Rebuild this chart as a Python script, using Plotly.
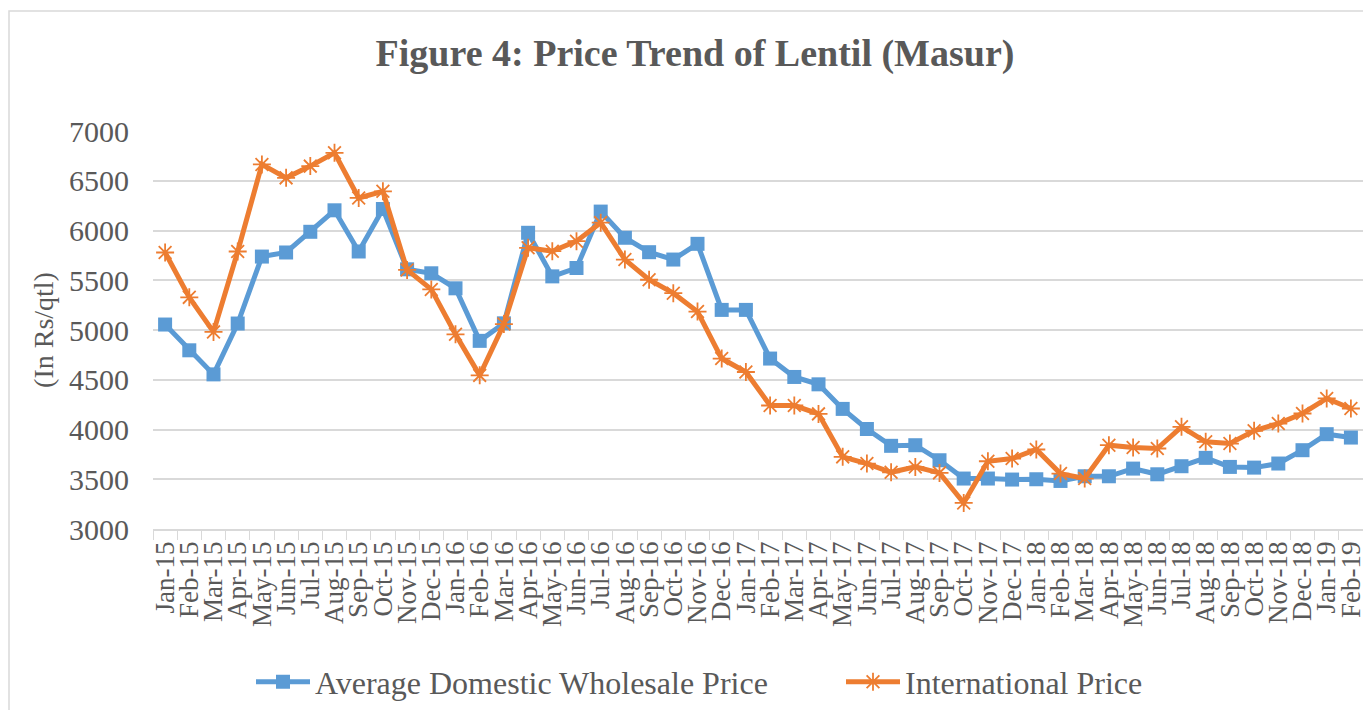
import plotly.graph_objects as go

months = ["Jan-15","Feb-15","Mar-15","Apr-15","May-15","Jun-15","Jul-15","Aug-15","Sep-15","Oct-15","Nov-15","Dec-15",
          "Jan-16","Feb-16","Mar-16","Apr-16","May-16","Jun-16","Jul-16","Aug-16","Sep-16","Oct-16","Nov-16","Dec-16",
          "Jan-17","Feb-17","Mar-17","Apr-17","May-17","Jun-17","Jul-17","Aug-17","Sep-17","Oct-17","Nov-17","Dec-17",
          "Jan-18","Feb-18","Mar-18","Apr-18","May-18","Jun-18","Jul-18","Aug-18","Sep-18","Oct-18","Nov-18","Dec-18",
          "Jan-19","Feb-19"]

domestic = [5055, 4796, 4554, 5065, 5738, 5779, 5987, 6203, 5789, 6216, 5610, 5570,
            5419, 4891, 5067, 5977, 5539, 5623, 6190, 5927, 5782, 5708, 5866, 5202,
            5202, 4713, 4528, 4454, 4207, 4005, 3836, 3842, 3691, 3507, 3507, 3497,
            3500, 3483, 3530, 3530, 3607, 3550, 3631, 3715, 3624, 3617, 3658, 3792,
            3953, 3919]

international = [5779, 5328, 4981, 5789, 6664, 6529, 6647, 6781, 6327, 6394, 5604, 5408,
                 4957, 4544, 5060, 5826, 5792, 5893, 6079, 5708, 5505, 5370, 5185, 4713,
                 4578, 4241, 4241, 4157, 3725, 3658, 3570, 3624, 3564, 3262, 3681, 3708,
                 3799, 3557, 3507, 3842, 3819, 3809, 4027, 3876, 3859, 3987, 4060, 4161,
                 4312, 4211]

BLUE = "#5B9BD5"
ORANGE = "#ED7D31"
GREY = "#595959"
GRID = "#D9D9D9"
FONT = "Liberation Serif, Times New Roman, serif"

# the page body adds an 8px margin, so the figure is sized to the remaining area
W, H = 1363, 702
ML, MR, MT, MB = 145, 8, 123, 181
PW = W - ML - MR
PH = H - MT - MB

fig = go.Figure()
fig.add_trace(go.Scatter(
    x=months, y=domestic, name="Average Domestic Wholesale Price",
    mode="lines+markers", legend="legend",
    line=dict(color=BLUE, width=5),
    marker=dict(symbol="square", size=14, color=BLUE),
))
fig.add_trace(go.Scatter(
    x=months, y=international, name="International Price",
    mode="lines+markers", legend="legend2",
    line=dict(color=ORANGE, width=5),
    marker=dict(symbol="asterisk-open", size=15, color=ORANGE, line=dict(color=ORANGE, width=1.8)),
))

legend_common = dict(orientation="h", xref="container", yref="container",
                     xanchor="left", yanchor="middle", y=(H - 674) / H,
                     font=dict(family=FONT, size=32, color=GREY),
                     itemwidth=54, bgcolor="rgba(0,0,0,0)", borderwidth=0)

fig.update_layout(
    width=W, height=H,
    margin=dict(l=ML, r=MR, t=MT, b=MB, autoexpand=False),
    paper_bgcolor="white", plot_bgcolor="white",
    font=dict(family=FONT, color=GREY, size=26),
    title=dict(text="<b>Figure 4: Price Trend of Lentil (Masur)</b>",
               xref="container", x=687 / W, xanchor="center",
               yref="container", y=(H - 45) / H, yanchor="middle",
               font=dict(family=FONT, size=38, color=GREY)),
    showlegend=True,
    legend=dict(legend_common, x=243 / W),
    legend2=dict(legend_common, x=833 / W),
    xaxis=dict(
        type="category", range=[-0.5, 49.5], automargin=False,
        tickmode="array", tickvals=months, ticktext=months,
        tickangle=-90, tickfont=dict(family=FONT, size=27, color=GREY),
        showgrid=False, showline=True, linecolor=GRID, linewidth=1.5,
        ticks="outside", tickson="boundaries", ticklen=9, tickcolor=GRID,
    ),
    yaxis=dict(
        range=[3000, 7000], dtick=500, tick0=3000, automargin=False,
        tickfont=dict(family=FONT, size=30, color=GREY),
        showgrid=True, gridcolor=GRID, gridwidth=1.5,
        zeroline=False, showline=False, ticks="", ticklabelstandoff=23,
        title=dict(text="(In Rs/qtl)", font=dict(family=FONT, size=28, color=GREY), standoff=7),
    ),
    shapes=[dict(type="rect", xref="paper", yref="paper",
                 x0=(1 - ML) / PW, x1=1.03, y0=-0.5, y1=(PH + MT - 3) / PH,
                 line=dict(color=GRID, width=1.5), fillcolor="rgba(0,0,0,0)", layer="below")],
)

fig.write_html("out.html")
